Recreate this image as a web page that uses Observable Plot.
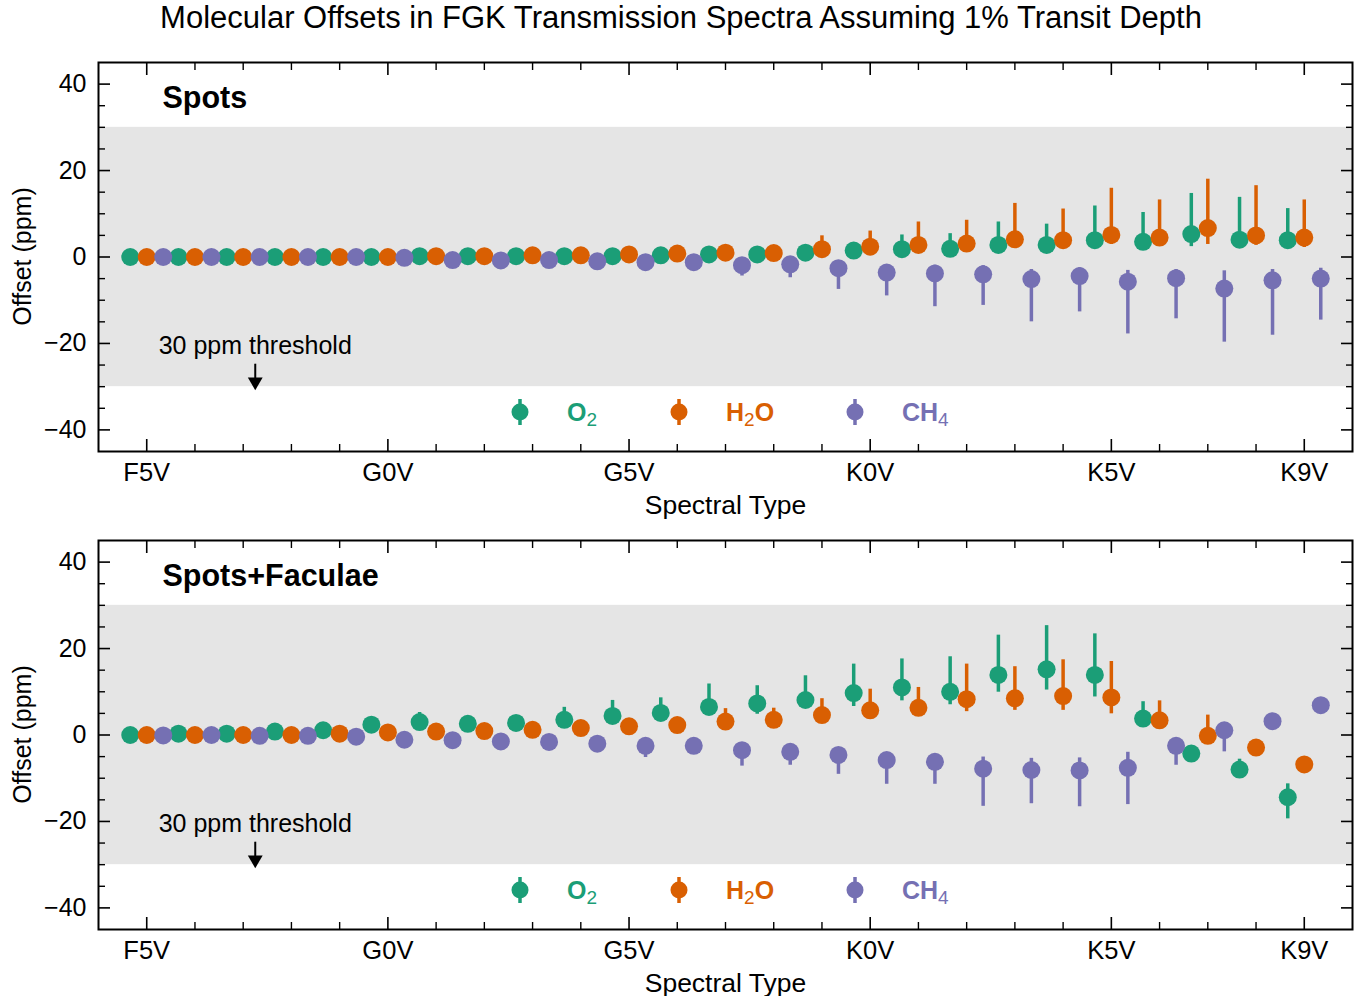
<!DOCTYPE html>
<html><head><meta charset="utf-8">
<script src="https://cdn.jsdelivr.net/npm/d3@7"></script>
<script src="https://cdn.jsdelivr.net/npm/@observablehq/plot@0.6"></script>
<style>
body{margin:0;background:#fff;font-family:"Liberation Sans",Arial,sans-serif;}
#title{height:40px;line-height:36px;text-align:center;font-size:31px;color:#000;white-space:nowrap;}
#p1,#p2{height:478px;}
svg{display:block;}
</style></head><body>
<div id="title">Molecular Offsets in FGK Transmission Spectra Assuming 1% Transit Depth</div>
<div id="p1"></div><div id="p2"></div>
<script>
const spectralTypes = ["F5V","F6V","F7V","F8V","F9V","G0V","G1V","G2V","G3V","G4V","G5V","G6V","G7V","G8V","G9V","K0V","K1V","K2V","K3V","K4V","K5V","K6V","K7V","K8V","K9V"];
const majorX = [0,5,10,15,20,24];
const minorX = [1,2,3,4,6,7,8,9,11,12,13,14,16,17,18,19,21,22,23];
const majorY = [-40,-20,0,20,40];
const minorY = [-35,-30,-25,-15,-10,-5,5,10,15,25,30,35];
const molecules = ["O2","H2O","CH4"];
const colors = ["#1b9e77","#d95f02","#7570b3"];
const threshold = 30;
const thresholdLabelAt = 2.25;
const arrowStem = [1.5, 5.2];

// Spots
const spotsO2   = [0,0,0,0,0,0,0.2,0.2,0.2,0.2,0.2,0.4,0.6,0.6,1.0,1.5,1.8,1.9,2.8,2.8,3.9,3.5,5.3,4.0,3.9];
const spotsO2Lo = [-0.1,-0.1,-0.1,-0.1,-0.1,-0.1,0,0,0,0,0,0.1,0.2,0.2,0.4,0.6,0.8,0.8,1.2,1.4,2.3,2.0,2.4,2.5,2.4];
const spotsO2Hi = [0.1,0.1,0.1,0.1,0.1,0.2,0.4,0.4,0.5,0.5,0.5,0.8,1.1,1.2,2.2,3.2,5.1,5.4,8.1,7.6,11.8,10.3,14.7,13.8,11.2];
const spotsH2O   = [0,0,0,0,0,0,0.2,0.2,0.4,0.4,0.6,0.8,1.0,0.9,1.8,2.4,2.8,3.1,4.1,3.9,5.1,4.5,6.7,5.0,4.5];
const spotsH2OLo = [-0.1,-0.1,-0.1,-0.1,-0.1,-0.1,0,0,0.1,0.1,0.2,0.3,0.4,0.3,0.9,1.2,1.4,1.6,2.2,2.1,2.9,2.6,2.9,2.7,2.2];
const spotsH2OHi = [0.1,0.1,0.1,0.1,0.1,0.1,0.4,0.4,0.7,0.7,1.0,1.3,1.7,1.7,4.9,6.0,8.1,8.5,12.4,11.1,15.9,13.2,18.0,16.5,13.2];
const spotsCH4   = [0,0,0,0,0,-0.2,-0.7,-0.8,-0.7,-1.0,-1.2,-1.2,-1.9,-1.7,-2.6,-3.6,-3.8,-4.0,-5.1,-4.4,-5.7,-4.9,-7.3,-5.4,-5.0];
const spotsCH4Lo = [-0.1,-0.1,-0.1,-0.1,-0.1,-0.4,-1.2,-1.4,-1.4,-1.9,-2.3,-2.5,-4.4,-4.8,-7.5,-9.0,-11.5,-11.2,-15.0,-12.7,-17.8,-14.3,-19.7,-18.1,-14.6];
const spotsCH4Hi = [0.1,0.1,0.1,0.1,0.1,0,-0.3,-0.3,-0.2,-0.4,-0.5,-0.4,-0.9,-0.8,-1.2,-1.8,-1.9,-2.0,-2.9,-2.5,-3.1,-2.9,-3.2,-2.9,-2.6];

// Spots+Faculae
const sfO2   = [0,0.3,0.3,0.8,1.1,2.4,3.0,2.6,2.8,3.5,4.4,5.1,6.5,7.3,8.1,9.7,11.0,10.0,13.9,15.2,13.9,3.8,-4.3,-8.0,-14.4];
const sfO2Lo = [-0.2,0,0,0.3,0.5,1.5,2.0,1.6,1.8,2.5,3.2,3.9,5.0,4.8,6.5,6.6,7.9,7.0,9.9,10.4,8.8,2.6,-5.3,-9.2,-19.4];
const sfO2Hi = [0.2,0.6,0.6,1.3,1.8,3.5,5.2,3.8,4.0,6.4,8.0,8.6,11.8,11.4,13.7,16.4,17.6,18.1,23.1,25.3,23.4,7.7,-3.2,-5.6,-11.3];
const sfH2O   = [0,0,0,0,0.3,0.6,0.8,0.9,1.2,1.6,2.0,2.3,3.1,3.5,4.6,5.7,6.3,8.3,8.5,9.0,8.7,3.4,-0.2,-2.9,-6.8];
const sfH2OLo = [-0.2,-0.2,-0.2,-0.2,0,0.2,0.3,0.4,0.7,1.0,1.4,1.6,2.3,2.6,3.6,4.5,5.0,5.4,5.7,5.7,4.9,2.3,-1.2,-3.8,-7.6];
const sfH2OHi = [0.2,0.2,0.2,0.2,0.6,1.0,1.3,1.4,1.8,2.3,2.8,3.2,6.1,6.2,8.4,10.6,11.0,16.4,15.8,17.4,17.0,7.9,4.6,-2.0,-6.0];
const sfCH4   = [-0.1,0,-0.2,-0.2,-0.4,-1.1,-1.2,-1.5,-1.6,-2.0,-2.5,-2.5,-3.5,-3.9,-4.6,-5.8,-6.2,-7.8,-8.1,-8.2,-7.6,-2.5,1.1,3.2,6.9];
const sfCH4Lo = [-0.3,-0.2,-0.4,-0.4,-0.7,-1.5,-1.7,-2.1,-2.3,-2.9,-5.2,-3.6,-7.2,-7.0,-9.1,-11.4,-11.4,-16.5,-15.9,-16.6,-16.1,-7.0,-3.9,2.2,6.1];
const sfCH4Hi = [0.1,0.2,0,0,-0.1,-0.7,-0.7,-1.0,-1.0,-1.3,-1.7,-1.8,-2.6,-2.9,-3.4,-4.4,-4.8,-5.1,-5.4,-5.3,-4.0,-1.6,1.9,4.0,7.6];

const panels = [
  {name: "Spots", el: "#p1", series: [[spotsO2,spotsO2Lo,spotsO2Hi],[spotsH2O,spotsH2OLo,spotsH2OHi],[spotsCH4,spotsCH4Lo,spotsCH4Hi]]},
  {name: "Spots+Faculae", el: "#p2", series: [[sfO2,sfO2Lo,sfO2Hi],[sfH2O,sfH2OLo,sfH2OHi],[sfCH4,sfCH4Lo,sfCH4Hi]]}
];

const dodge = [-16.5, 0, 16.5];
const FONT = "Liberation Sans, Arial, Helvetica, sans-serif";

function tickAxes() {
  const blank = () => "";
  return [
    Plot.axisX(majorX, {anchor: "bottom", tickSize: -12, strokeWidth: 1.6, tickFormat: blank, label: null}),
    Plot.axisX(minorX, {anchor: "bottom", tickSize: -7, strokeWidth: 1.4, tickFormat: blank, label: null}),
    Plot.axisX(majorX, {anchor: "top", tickSize: -12, strokeWidth: 1.6, tickFormat: blank, label: null}),
    Plot.axisX(minorX, {anchor: "top", tickSize: -7, strokeWidth: 1.4, tickFormat: blank, label: null}),
    Plot.axisY(majorY, {anchor: "left", tickSize: -12, strokeWidth: 1.6, tickFormat: blank, label: null}),
    Plot.axisY(minorY, {anchor: "left", tickSize: -7, strokeWidth: 1.4, tickFormat: blank, label: null}),
    Plot.axisY(majorY, {anchor: "right", tickSize: -12, strokeWidth: 1.6, tickFormat: blank, label: null}),
    Plot.axisY(minorY, {anchor: "right", tickSize: -7, strokeWidth: 1.4, tickFormat: blank, label: null}),
    Plot.axisX(majorX, {anchor: "bottom", tickSize: 0, tickPadding: 11, fontSize: 25.5, tickFormat: i => spectralTypes[i], label: null}),
    Plot.axisY(majorY, {anchor: "left", tickSize: 0, tickPadding: 12, fontSize: 25, label: null})
  ];
}

for (const P of panels) {
  const marks = [
    Plot.rect([threshold], {y1: d => -d, y2: d => d, fill: "#e5e5e5"})
  ];
  P.series.forEach(([v, lo, hi], k) => {
    const rows = spectralTypes.map((t, i) => ({i, t, v: v[i], lo: lo[i], hi: hi[i]}));
    marks.push(Plot.ruleX(rows, {x: "i", y1: "lo", y2: "hi", stroke: colors[k], strokeWidth: 3.5, dx: dodge[k]}));
    marks.push(Plot.dot(rows, {x: "i", y: "v", r: 9, fill: colors[k], dx: dodge[k]}));
  });
  marks.push(
    Plot.text(["30 ppm threshold"], {x: thresholdLabelAt, y: -threshold, dy: -41, fontSize: 25, fill: "black"}),
    Plot.ruleX([threshold], {x: thresholdLabelAt, y1: d => -d + arrowStem[0], y2: d => -d + arrowStem[1], strokeWidth: 2, stroke: "black"}),
    Plot.dot([threshold], {x: thresholdLabelAt, y: d => -d, dy: -5, symbol: "triangle", rotate: 180, r: 5.5, fill: "black"}),
    Plot.text([P.name], {frameAnchor: "top-left", dx: 64, dy: 36, fontSize: 30.5, fontWeight: "bold", textAnchor: "start", lineAnchor: "middle", fill: "black"}),
    Plot.text(["Spectral Type"], {frameAnchor: "bottom", dy: 54, fontSize: 26.5, lineAnchor: "middle", fill: "black"}),
    ...tickAxes(),
    Plot.frame({stroke: "black", strokeWidth: 2})
  );
  const svg = Plot.plot({
    width: 1362, height: 478,
    marginTop: 22, marginBottom: 67, marginLeft: 98, marginRight: 10,
    style: {fontFamily: FONT, fontSize: "24px", color: "black", background: "white", overflow: "visible"},
    x: {domain: [-1, 25]},
    y: {domain: [-45, 45]},
    marks
  });
  const ys = svg.scale("y");
  const g = d3.select(svg).append("g").attr("font-family", FONT).attr("text-anchor", "start");
  // y axis label
  const midY = (ys.apply(45) + ys.apply(-45)) / 2;
  g.append("text").attr("transform", `translate(22,${midY}) rotate(-90)`)
    .attr("text-anchor", "middle").attr("dy", "0.36em").attr("font-size", 25).attr("fill", "black")
    .text("Offset (ppm)");
  // legend
  const legendY = ys.apply(-45) - 39;
  const legendX = [520, 679, 855];
  const legendNames = [["O","2",""],["H","2","O"],["CH","4",""]];
  legendNames.forEach((parts, k) => {
    const cx = legendX[k];
    g.append("line").attr("x1", cx).attr("x2", cx).attr("y1", legendY - 13).attr("y2", legendY + 13)
      .attr("stroke", colors[k]).attr("stroke-width", 3.5);
    g.append("circle").attr("cx", cx).attr("cy", legendY).attr("r", 8.5).attr("fill", colors[k]);
    const t = g.append("text").attr("x", cx + 47).attr("y", legendY).attr("dy", "0.36em")
      .attr("text-anchor", "start")
      .attr("fill", colors[k]).attr("font-size", 25).attr("font-weight", "bold");
    t.append("tspan").text(parts[0]);
    t.append("tspan").attr("font-size", 19).attr("font-weight", "normal").attr("dy", 5).text(parts[1]);
    if (parts[2]) t.append("tspan").attr("dy", -5).text(parts[2]);
  });
  document.querySelector(P.el).appendChild(svg);
}
</script>
</body></html>
